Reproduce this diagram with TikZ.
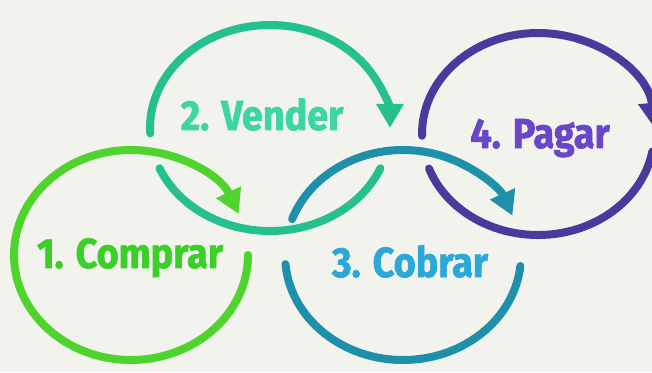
\documentclass[tikz,border=0pt]{standalone}
\usepackage{fontspec}
\newfontfamily\lblfont[FakeStretch=0.9, BoldFeatures={FakeBold=1.6}]{Fira Sans}
\usetikzlibrary{arrows.meta}
\definecolor{bg}{HTML}{F3F3EE}
\definecolor{ringA}{HTML}{4FD42E}
\definecolor{ringB}{HTML}{26C08E}
\definecolor{ringC}{HTML}{1E90AA}
\definecolor{ringD}{HTML}{4A3A9E}
\definecolor{textA}{HTML}{3CCF28}
\definecolor{textB}{HTML}{3DD6A3}
\definecolor{textC}{HTML}{2AA8D8}
\definecolor{textD}{HTML}{6A46C8}
\begin{document}
\begin{tikzpicture}[x=1pt,y=1pt,
  ring/.style={line width=8pt, line cap=round},
  tipped/.style={-{Triangle[width=26pt,length=24pt]}},
  lbl/.style={font=\lblfont\bfseries\fontsize{42}{42}\selectfont, anchor=base, inner sep=0pt}]
\fill[bg] (0,0) rectangle (652,372);
\useasboundingbox (0,0) rectangle (652,372);
\coordinate (o1) at (131,117);
\coordinate (o2) at (270,244);
\coordinate (o3) at (403,117);
\coordinate (o4) at (538,238);
% ring 1
\draw[ring, ringA, tipped] ([shift={(0:117pt and 105pt)}]o1) arc[start angle=0, end angle=-337, x radius=117pt, y radius=105pt];
% ring 2
\draw[ring, ringB, tipped] ([shift={(183:120pt and 103pt)}]o2) arc[start angle=183, end angle=0, x radius=120pt, y radius=103pt];
\draw[ring, ringB] ([shift={(-157:120pt and 103pt)}]o2) arc[start angle=-157, end angle=-23, x radius=120pt, y radius=103pt];
% ring 3
\draw[ring, ringC, tipped] ([shift={(160:118pt and 105pt)}]o3) arc[start angle=160, end angle=22, x radius=118pt, y radius=105pt];
\draw[ring, ringC] ([shift={(-175:118pt and 105pt)}]o3) arc[start angle=-175, end angle=-6, x radius=118pt, y radius=105pt];
% ring 4
\draw[ring, ringD, tipped] ([shift={(181:116pt and 101pt)}]o4) arc[start angle=181, end angle=4, x radius=116pt, y radius=101pt];
\draw[ring, ringD] ([shift={(-160:116pt and 101pt)}]o4) arc[start angle=-160, end angle=-10, x radius=116pt, y radius=101pt];
% labels
\node[lbl, textA] (t1) at (130,104) {1. Comprar};
\node[lbl, textB] (t2) at (262,242) {2. Vender};
\node[lbl, textC] (t3) at (410,95) {3. Cobrar};
\node[lbl, textD] (t4) at (540,224) {4. Pagar};
\end{tikzpicture}
\end{document}
